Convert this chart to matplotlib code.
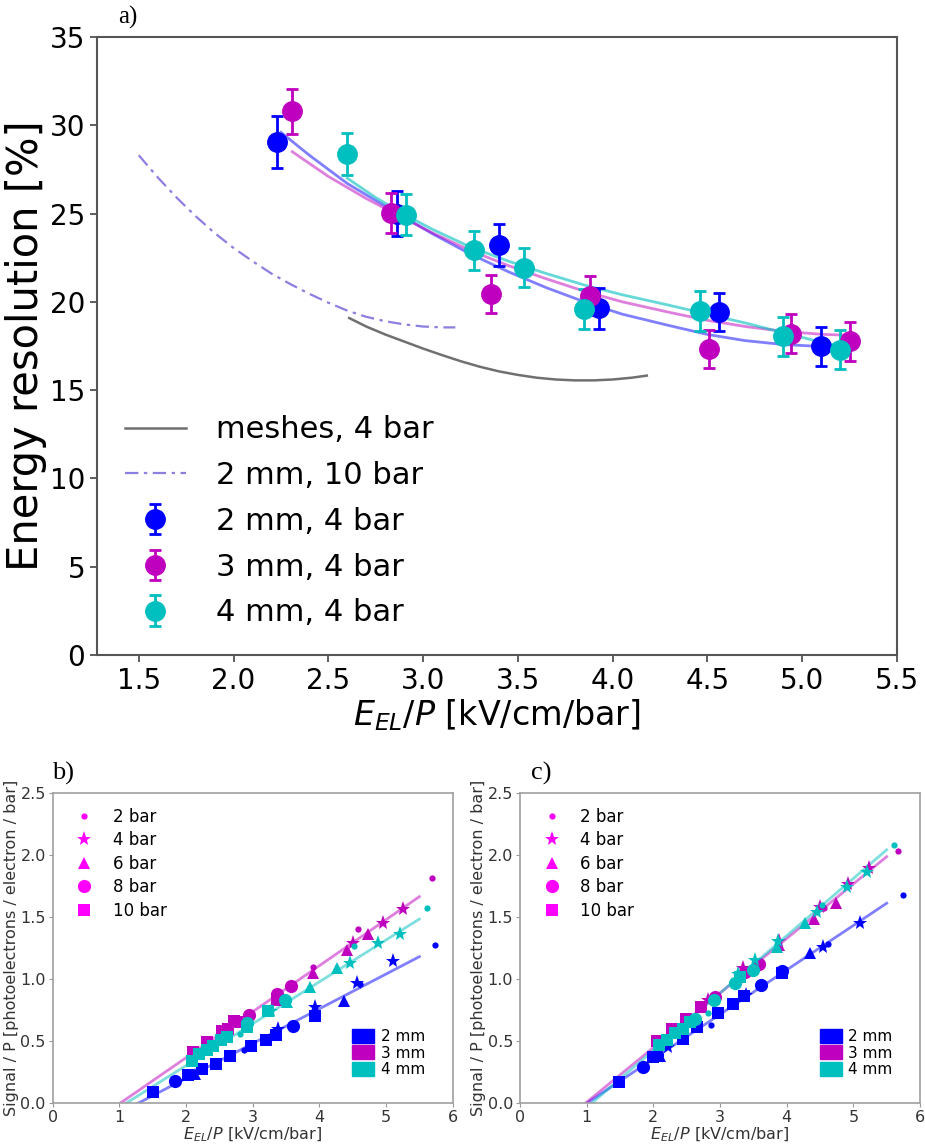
import matplotlib
matplotlib.use("Agg")
import matplotlib.pyplot as plt
from matplotlib.lines import Line2D
from matplotlib.patches import Patch

# ---------------- panel a: energy resolution ----------------
a_2mm_x = [2.23, 2.86, 3.40, 3.93, 4.56, 5.10]
a_2mm_y = [29.05, 25.0, 23.2, 19.63, 19.44, 17.48]
a_2mm_err = [1.5, 1.3, 1.2, 1.15, 1.07, 1.1]

a_3mm_x = [2.31, 2.83, 3.36, 3.88, 4.51, 4.94, 5.25]
a_3mm_y = [30.78, 25.02, 20.46, 20.35, 17.33, 18.2, 17.76]
a_3mm_err = [1.28, 1.15, 1.08, 1.12, 1.1, 1.12, 1.12]

a_4mm_x = [2.60, 2.91, 3.27, 3.53, 3.85, 4.46, 4.90, 5.20]
a_4mm_y = [28.38, 24.94, 22.92, 21.92, 19.6, 19.5, 18.04, 17.29]
a_4mm_err = [1.2, 1.15, 1.1, 1.1, 1.15, 1.13, 1.12, 1.1]

# fitted curves
fit_2mm_x = [2.25, 2.4, 2.6, 2.85, 3.05, 3.25, 3.45, 3.65, 3.85, 4.05, 4.3, 4.5, 4.7, 4.9, 5.1, 5.25]
fit_2mm_y = [29.6, 28.3, 26.7, 25.1, 23.85, 22.7, 21.7, 20.8, 20.0, 19.3, 18.65, 18.15, 17.8, 17.58, 17.47, 17.45]
fit_3mm_x = [2.31, 2.5, 2.7, 2.85, 3.05, 3.25, 3.45, 3.65, 3.85, 4.05, 4.3, 4.5, 4.7, 4.9, 5.1, 5.25]
fit_3mm_y = [28.5, 27.1, 25.85, 25.0, 23.9, 22.9, 22.05, 21.3, 20.6, 20.0, 19.4, 18.95, 18.6, 18.33, 18.16, 18.1]
fit_4mm_x = [2.6, 2.75, 2.9, 3.05, 3.25, 3.45, 3.65, 3.85, 4.05, 4.3, 4.5, 4.7, 4.9, 5.05, 5.2]
fit_4mm_y = [27.0, 25.9, 24.95, 24.1, 23.1, 22.3, 21.6, 20.95, 20.4, 19.8, 19.3, 18.8, 18.25, 17.85, 17.5]

meshes_x = [2.61, 2.7, 2.8, 2.9, 3.0, 3.1, 3.2, 3.3, 3.4, 3.5, 3.6, 3.7, 3.8, 3.9, 4.0, 4.1, 4.18]
meshes_y = [19.08, 18.6, 18.15, 17.75, 17.35, 16.98, 16.63, 16.32, 16.06, 15.86, 15.7, 15.6, 15.55, 15.55, 15.6, 15.7, 15.82]
mm2_10bar_x = [1.5, 1.6, 1.7, 1.8, 1.9, 2.0, 2.1, 2.2, 2.3, 2.4, 2.5, 2.6, 2.7, 2.8, 2.9, 3.0, 3.1, 3.17]
mm2_10bar_y = [28.3, 27.05, 25.9, 24.85, 23.9, 23.05, 22.3, 21.6, 21.0, 20.45, 19.95, 19.5, 19.15, 18.9, 18.72, 18.6, 18.55, 18.55]

# ---------------- panel b ----------------
b_2mm_x = [1.50, 1.835, 2.025, 2.13, 2.245, 2.445, 2.66, 2.87, 2.97, 3.2, 3.35, 3.375, 3.61, 3.935, 3.935, 4.37, 4.57, 4.61, 5.1, 5.735]
b_2mm_y = [0.092, 0.18, 0.228, 0.232, 0.274, 0.32, 0.38, 0.43, 0.46, 0.513, 0.55, 0.60, 0.622, 0.705, 0.778, 0.826, 0.971, 0.96, 1.148, 1.271]
b_2mm_p = [10, 8, 10, 6, 10, 10, 10, 2, 10, 10, 10, 4, 8, 10, 4, 6, 4, 2, 4, 2]

b_3mm_x = [2.10, 2.31, 2.535, 2.635, 2.72, 2.77, 2.945, 3.36, 3.37, 3.575, 3.90, 3.90, 4.42, 4.50, 4.575, 4.725, 4.95, 5.26, 5.685]
b_3mm_y = [0.41, 0.49, 0.578, 0.597, 0.664, 0.655, 0.712, 0.879, 0.83, 0.947, 1.10, 1.046, 1.234, 1.293, 1.403, 1.36, 1.451, 1.561, 1.81]
b_3mm_p = [10, 10, 10, 10, 10, 10, 8, 8, 10, 8, 2, 6, 6, 4, 2, 6, 4, 4, 2]

b_4mm_x = [2.085, 2.2, 2.31, 2.41, 2.525, 2.61, 2.81, 2.92, 2.92, 3.23, 3.27, 3.485, 3.51, 3.86, 4.27, 4.46, 4.52, 4.885, 5.21, 5.62]
b_4mm_y = [0.344, 0.395, 0.43, 0.462, 0.51, 0.532, 0.556, 0.613, 0.645, 0.74, 0.74, 0.832, 0.818, 0.934, 1.086, 1.127, 1.266, 1.288, 1.36, 1.575]
b_4mm_p = [10, 10, 10, 10, 10, 10, 2, 10, 8, 10, 4, 8, 6, 6, 6, 4, 2, 4, 4, 2]

b_fit_x = {"2 mm": [1.28, 5.5], "3 mm": [1.01, 5.5], "4 mm": [1.1, 5.5]}
b_fit_y = {"2 mm": [0.0, 1.18], "3 mm": [0.0, 1.663], "4 mm": [0.0, 1.483]}

# ---------------- panel c ----------------
c_2mm_x = [1.49, 1.84, 2.0, 2.05, 2.1, 2.225, 2.44, 2.66, 2.865, 2.97, 3.19, 3.36, 3.385, 3.615, 3.925, 3.935, 4.35, 4.55, 4.615, 5.1, 5.74]
c_2mm_y = [0.174, 0.29, 0.375, 0.39, 0.38, 0.456, 0.515, 0.61, 0.63, 0.73, 0.80, 0.86, 0.872, 0.955, 1.065, 1.05, 1.21, 1.26, 1.28, 1.45, 1.677]
c_2mm_p = [10, 8, 10, 8, 6, 4, 10, 10, 2, 10, 10, 10, 4, 8, 8, 10, 6, 4, 2, 4, 2]

c_3mm_x = [2.06, 2.275, 2.49, 2.71, 2.825, 2.925, 3.35, 3.375, 3.59, 3.89, 3.89, 4.415, 4.50, 4.56, 4.74, 4.925, 5.24, 5.675]
c_3mm_y = [0.504, 0.6, 0.68, 0.772, 0.83, 0.853, 1.086, 1.06, 1.118, 1.31, 1.274, 1.48, 1.578, 1.572, 1.61, 1.762, 1.897, 2.033]
c_3mm_p = [10, 10, 10, 10, 4, 8, 4, 8, 8, 4, 6, 6, 4, 2, 6, 4, 4, 2]

c_4mm_x = [2.09, 2.2, 2.325, 2.44, 2.55, 2.62, 2.815, 2.91, 3.225, 3.3, 3.27, 3.49, 3.525, 3.85, 3.875, 4.275, 4.45, 4.525, 4.9, 5.2, 5.61]
c_4mm_y = [0.47, 0.51, 0.563, 0.6, 0.657, 0.68, 0.73, 0.83, 0.966, 1.02, 1.04, 1.073, 1.153, 1.26, 1.31, 1.45, 1.54, 1.596, 1.744, 1.864, 2.079]
c_4mm_p = [10, 10, 10, 10, 10, 8, 2, 8, 8, 10, 4, 8, 4, 6, 4, 6, 4, 2, 4, 4, 2]

c_fit_x = {"2 mm": [1.0, 5.5], "3 mm": [0.98, 5.5], "4 mm": [1.075, 5.5]}
c_fit_y = {"2 mm": [0.0, 1.61], "3 mm": [0.0, 1.985], "4 mm": [0.0, 2.04]}

gaps = ["2 mm", "3 mm", "4 mm"]
gap_colors = {"2 mm": "#0000ff", "3 mm": "#bf00bf", "4 mm": "#00bfbf"}
pressures = [2, 4, 6, 8, 10]
p_marker = {2: ("o", 4.5), 4: ("*", 11), 6: ("^", 9), 8: ("o", 9.5), 10: ("s", 8.5)}

fig = plt.figure(figsize=(9.25, 11.44), dpi=100)

# ---------------- panel a ----------------
ax = fig.add_axes([0.1049, 0.4275, 0.8649, 0.5402])
ax.plot(meshes_x, meshes_y, color="#707070", lw=1.8, label="meshes, 4 bar")
ax.plot(mm2_10bar_x, mm2_10bar_y, color="#8b7fe0", lw=1.6, dashes=(6, 2.5, 1.5, 2.5),
        label="2 mm, 10 bar")
ax.plot(fit_2mm_x, fit_2mm_y, color="#0000ff", alpha=0.5, lw=2)
ax.plot(fit_3mm_x, fit_3mm_y, color="#bf00bf", alpha=0.5, lw=2)
ax.plot(fit_4mm_x, fit_4mm_y, color="#00bfbf", alpha=0.6, lw=2)
for xs, ys, es, g in [(a_2mm_x, a_2mm_y, a_2mm_err, "2 mm"),
                      (a_3mm_x, a_3mm_y, a_3mm_err, "3 mm"),
                      (a_4mm_x, a_4mm_y, a_4mm_err, "4 mm")]:
    ax.errorbar(xs, ys, yerr=es, fmt="o", color=gap_colors[g], ms=14,
                elinewidth=2, capsize=4, capthick=2, label=g + ", 4 bar")

ax.set_xlim(1.28, 5.5)
ax.set_ylim(0, 35)
ax.set_xticks([1.5, 2.0, 2.5, 3.0, 3.5, 4.0, 4.5, 5.0, 5.5])
ax.set_yticks([0, 5, 10, 15, 20, 25, 30, 35])
ax.tick_params(labelsize=20, length=5, width=1.2, color="#444444")
for s in ax.spines.values():
    s.set_color("#555555")
    s.set_linewidth(1.5)
ax.set_xlabel(r"$E_{EL}/P$ [kV/cm/bar]", fontsize=24, labelpad=2)
ax.set_ylabel("Energy resolution [%]", fontsize=30, labelpad=2)
ax.legend(loc="lower left", fontsize=22, frameon=False, handletextpad=1.0,
          labelspacing=0.55, bbox_to_anchor=(0.0, 0.0))
fig.text(0.128, 0.985, "a)", family="Liberation Serif", fontsize=18, va="center")


# ---------------- panels b and c ----------------
def small_panel(ax, data, fit_x, fit_y):
    for g in gaps:
        ax.plot(fit_x[g], fit_y[g], color=gap_colors[g], alpha=0.5, lw=2)
    for g in gaps:
        xs, ys, ps = data[g]
        for x, y, p in zip(xs, ys, ps):
            m, size = p_marker[p]
            ax.plot(x, y, marker=m, ms=size, color=gap_colors[g], mew=0, ls="none")
    ax.set_xlim(0, 6)
    ax.set_ylim(0, 2.5)
    ax.set_xticks(range(7))
    ax.set_yticks([0.0, 0.5, 1.0, 1.5, 2.0, 2.5])
    ax.tick_params(labelsize=11.5, length=3, pad=2, color="#999999", labelcolor="#333333")
    for s in ax.spines.values():
        s.set_color("#a0a0a0")
        s.set_linewidth(1.2)
    ax.set_xlabel(r"$E_{EL}/P$ [kV/cm/bar]", fontsize=11.5, color="#333333", labelpad=0)
    ax.set_ylabel("Signal / P [photoelectrons / electron / bar]", fontsize=11.5,
                  color="#333333", labelpad=1)
    p_handles = [Line2D([], [], marker=p_marker[p][0], ms=p_marker[p][1], color="#ff00ff",
                        mew=0, ls="none") for p in pressures]
    leg1 = ax.legend(p_handles, [f"{p} bar" for p in pressures], loc="upper left",
                     fontsize=12, frameon=False, labelspacing=0.33, handletextpad=0.7)
    ax.add_artist(leg1)
    g_handles = [Patch(color=gap_colors[g]) for g in gaps]
    ax.legend(g_handles, gaps, loc="lower right", fontsize=11, frameon=False,
              handlelength=1.45, handleheight=1.05, labelspacing=0.08,
              handletextpad=0.4, bbox_to_anchor=(0.965, 0.04))


axb = fig.add_axes([0.0570, 0.0356, 0.4324, 0.2715])
small_panel(axb, {"2 mm": (b_2mm_x, b_2mm_y, b_2mm_p),
                  "3 mm": (b_3mm_x, b_3mm_y, b_3mm_p),
                  "4 mm": (b_4mm_x, b_4mm_y, b_4mm_p)}, b_fit_x, b_fit_y)
fig.text(0.056, 0.324, "b)", family="Liberation Serif", fontsize=19, va="center")

axc = fig.add_axes([0.5622, 0.0356, 0.4324, 0.2715])
small_panel(axc, {"2 mm": (c_2mm_x, c_2mm_y, c_2mm_p),
                  "3 mm": (c_3mm_x, c_3mm_y, c_3mm_p),
                  "4 mm": (c_4mm_x, c_4mm_y, c_4mm_p)}, c_fit_x, c_fit_y)
fig.text(0.574, 0.324, "c)", family="Liberation Serif", fontsize=19, va="center")

fig.savefig("out.png", dpi=100)
